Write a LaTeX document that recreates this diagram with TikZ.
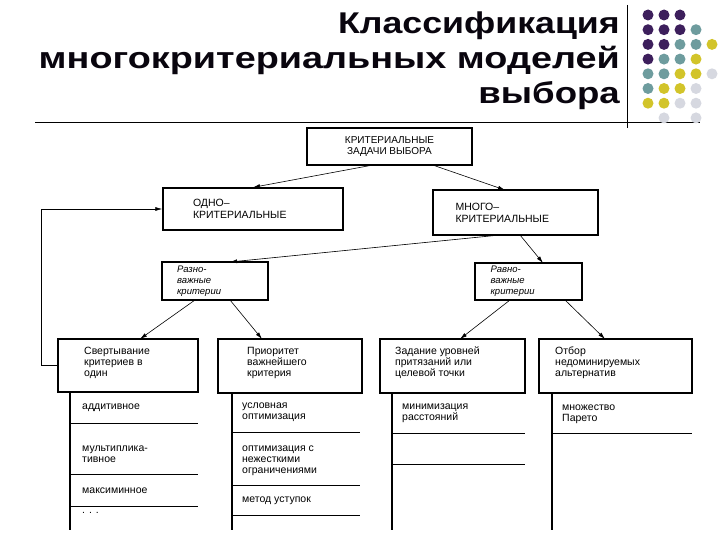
\documentclass[tikz,border=0pt]{standalone}
\usepackage{fontspec}
\setmainfont{Liberation Sans}
\usetikzlibrary{arrows.meta}
\begin{document}
\begin{tikzpicture}[x=1pt,y=-1pt,
  bx/.style={draw,line width=1.3pt,inner sep=0pt},
  lbl/.style={font=\fontsize{10.5}{11}\selectfont,align=left,anchor=north west,inner sep=0pt},
  arr/.style={-{Latex[length=7pt,width=4pt]},line width=0.6pt},
  vl/.style={line width=1.2pt},
  hl/.style={line width=0.6pt},
  dt/.style={circle,fill,inner sep=0pt,minimum size=11pt}]
\useasboundingbox (0,0) rectangle (720,540);
\definecolor{pu}{HTML}{3D1F5C}\definecolor{te}{HTML}{6E9C9E}
\definecolor{ye}{HTML}{D2C42A}\definecolor{li}{HTML}{D6D8E0}
% title
\node[anchor=north east,align=right,font=\fontsize{30}{35}\selectfont\bfseries,text=black!85!pu,inner sep=0pt] (title) at (620,12)
 {\scalebox{1.19}[1]{Классификация}\\\scalebox{1.26}[1]{многокритериальных моделей}\\\scalebox{1.22}[1]{выбора}};
\draw[hl] (627,5) -- (627,128);
\draw[hl] (35,122) -- (700,122);
% dots
\foreach \r/\cols in {0/{0/pu,1/pu,2/pu},1/{0/pu,1/pu,2/pu,3/te},2/{0/pu,1/pu,2/te,3/te,4/ye},
 3/{0/pu,1/te,2/te,3/ye},4/{0/te,1/te,2/ye,3/ye,4/li},5/{0/te,1/ye,2/ye,3/li},6/{0/ye,1/ye,2/li,3/li},7/{1/li,3/li}}
 {\foreach \c/\col in \cols {\node[dt,fill=\col] (d\r\c) at (648+16*\c,15+14.7*\r) {};}}
% boxes
\node[bx,minimum width=165pt,minimum height=37pt,font=\fontsize{10}{11}\selectfont,align=center] (top) at (389.5,146.5) {КРИТЕРИАЛЬНЫЕ\\ЗАДАЧИ ВЫБОРА};
\node[bx,minimum width=180pt,minimum height=42pt,font=\fontsize{10.5}{12}\selectfont,align=left,text width=120pt] (one) at (253,209) {ОДНО--\\КРИТЕРИАЛЬНЫЕ};
\node[bx,minimum width=165pt,minimum height=45pt,font=\fontsize{10.5}{12}\selectfont,align=left,text width=120pt] (many) at (515.5,212.5) {МНОГО--\\КРИТЕРИАЛЬНЫЕ};
\node[bx,minimum width=106pt,minimum height=38pt,font=\fontsize{9.5}{11}\selectfont\itshape,align=left,text width=76pt] (raz) at (215,281) {Разно-\\важные\\критерии};
\node[bx,minimum width=107pt,minimum height=37pt,font=\fontsize{9.5}{11}\selectfont\itshape,align=left,text width=76pt] (rav) at (528.5,281.5) {Равно-\\важные\\критерии};
\node[bx,minimum width=140pt,minimum height=53pt] (b1) at (128,365.5) {};
\node[bx,minimum width=144pt,minimum height=54pt] (b2) at (290,366) {};
\node[bx,minimum width=145pt,minimum height=54pt] (b3) at (452.5,366) {};
\node[bx,minimum width=153pt,minimum height=54pt] (b4) at (615.5,366) {};
\node[lbl] (t1) at (84,347) {Свертывание\\критериев в\\один};
\node[lbl] (t2) at (247,347) {Приоритет\\важнейшего\\критерия};
\node[lbl] (t3) at (395,347) {Задание уровней\\притязаний или\\целевой точки};
\node[lbl] (t4) at (555,347) {Отбор\\недоминируемых\\альтернатив};
% arrows
\draw[arr] (top.south) ++(-20,0) coordinate (ta) -- (one.north);
\draw[arr] (top.south) ++(45,0) coordinate (tb) -- (505,190) coordinate (mb);
\draw[arr] (500,235) coordinate (ma) -- (230,262) coordinate (ra);
\draw[arr] (520,235) coordinate (mc) -- (543,263) coordinate (rb);
\draw[arr] (195,300) coordinate (p1) -- (140,339) coordinate (q1);
\draw[arr] (230,300) coordinate (p2) -- (262,339) coordinate (q2);
\draw[arr] (510,300) coordinate (p3) -- (460,339) coordinate (q3);
\draw[arr] (565,300) coordinate (p4) -- (605,339) coordinate (q4);
\draw[arr] (b1.west) -- ++(-16,0) |- (one.west);
% columns
\coordinate (c1) at (70,392);\coordinate (c2) at (232,393);\coordinate (c3) at (392,393);\coordinate (c4) at (552,393);
\draw[vl] (c1) -- (70,530); \draw[vl] (c2) -- (232,530); \draw[vl] (c3) -- (392,530); \draw[vl] (c4) -- (552,530);
\node[lbl] (a1) at (82,404) {аддитивное};
\draw[hl] (70,423) -- (198,423);
\node[lbl] (a2) at (82,446) {мультиплика-\\тивное};
\draw[hl] (70,474) -- (198,474);
\node[lbl] (a3) at (82,488) {максиминное};
\draw[hl] (70,506) -- (198,506);
\node[lbl] (a4) at (82,512) {. . .};
\node[lbl] (e1) at (242,403) {условная\\оптимизация};
\draw[hl] (232,432) -- (360,432);
\node[lbl] (e2) at (242,446) {оптимизация с\\нежесткими\\ограничениями};
\draw[hl] (232,485) -- (360,485);
\node[lbl] (e3) at (242,497) {метод уступок};
\draw[hl] (232,515) -- (360,515);
\node[lbl] (f1) at (402,404) {минимизация\\расстояний};
\draw[hl] (392,433) -- (525,433);
\draw[hl] (392,464) -- (525,464);
\node[lbl] (g1) at (562,405) {множество\\Парето};
\draw[hl] (552,433) -- (692,433);
\end{tikzpicture}
\end{document}
